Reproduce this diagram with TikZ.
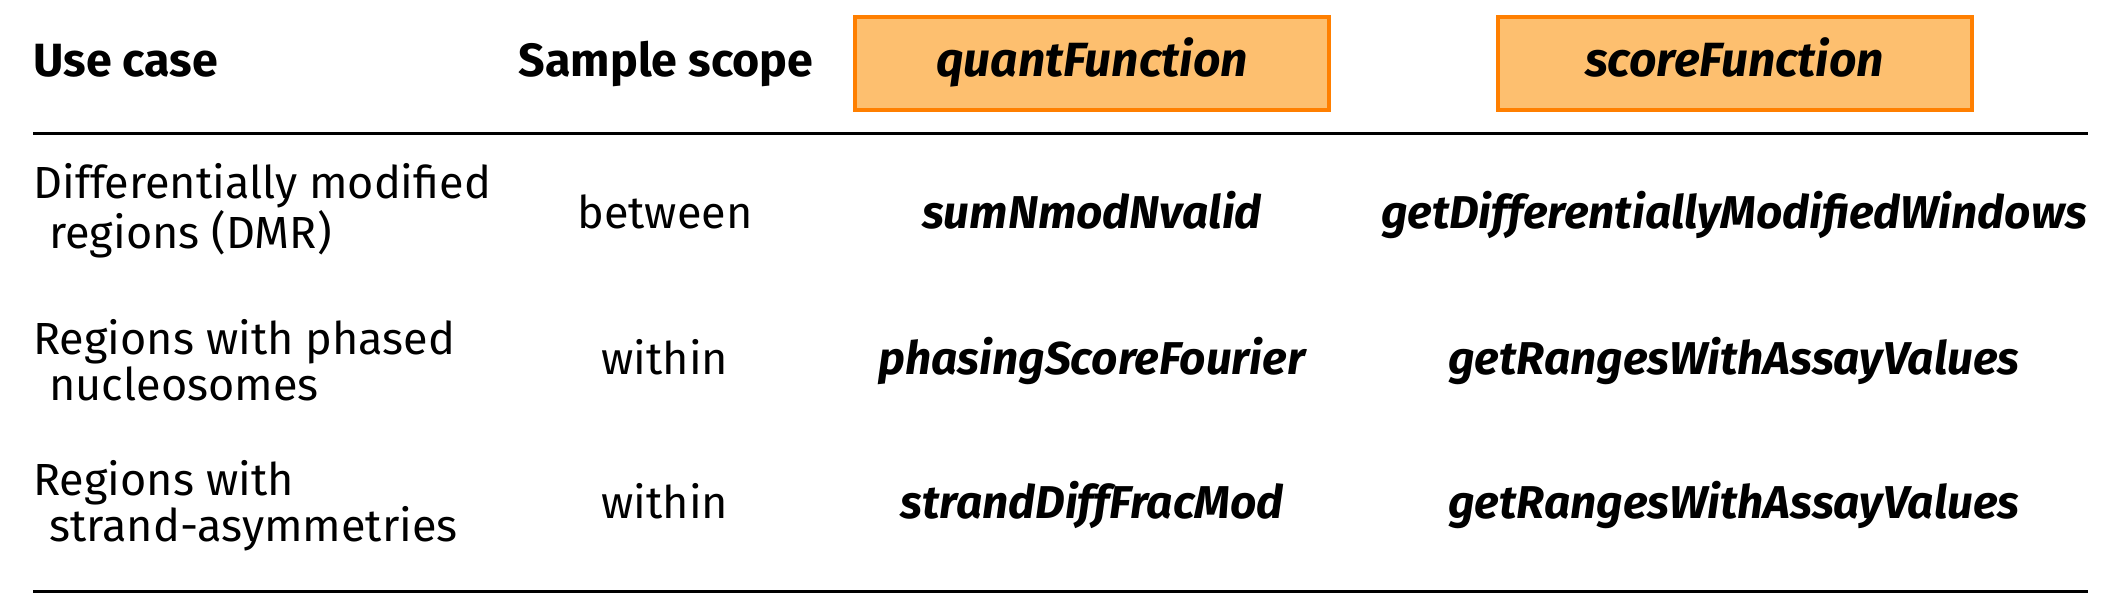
\documentclass[tikz,border=0pt]{standalone}
\usepackage{fontspec}
\setmainfont{Fira Sans}
\definecolor{boxfill}{HTML}{FDBF6F}
\definecolor{boxline}{HTML}{FF7F00}
\begin{document}
\begin{tikzpicture}[x=0.5pt,y=-0.5pt,
  hdr/.style={font=\bfseries\fontsize{23.3}{26}\selectfont, inner sep=0pt, anchor=base},
  cell/.style={font=\fontsize{22.5}{23}\selectfont, inner sep=0pt, anchor=base},
  usecase/.style={font=\fontsize{22.5}{23}\selectfont, inner sep=0pt, anchor=base west, align=left},
  fn/.style={font=\bfseries\itshape\fontsize{23}{26}\selectfont, inner sep=0pt, anchor=base},
  fnbox/.style={draw=boxline, fill=boxfill, line width=2pt, minimum width=237pt, minimum height=46.5pt,
    font=\bfseries\itshape\fontsize{24}{28}\selectfont, text height=18pt, text depth=5pt, inner sep=0pt},
  rule/.style={line width=1.5pt}]
\useasboundingbox (0,0) rectangle (2113,615);
% header
\node[hdr, anchor=base west] (hUse) at (33,76) {Use case};
\node[hdr] (hScope) at (666,76) {Sample scope};
\node[fnbox] (hQuant) at (1092,63.5) {quantFunction};
\node[fnbox] (hScore) at (1734.5,63.5) {scoreFunction};
\coordinate (t1) at (33,133);
\coordinate (t2) at (2088,133);
\draw[rule] (t1) -- (t2);
% row 1
\node[usecase] (u1) at (33,248) {Differentially modified\\\hspace{8pt}regions (DMR)};
\node[cell] (s1) at (665,228) {between};
\node[fn] (q1) at (1092,228) {sumNmodNvalid};
\node[fn] (c1) at (1734,228) {getDifferentiallyModifiedWindows};
% row 2
\node[usecase] (u2) at (33,400) {Regions with phased\\\hspace{8pt}nucleosomes};
\node[cell] (s2) at (665,374) {within};
\node[fn] (q2) at (1092,374) {phasingScoreFourier};
\node[fn] (c2) at (1734,374) {getRangesWithAssayValues};
% row 3
\node[usecase] (u3) at (33,541) {Regions with\\\hspace{8pt}strand-asymmetries};
\node[cell] (s3) at (665,518) {within};
\node[fn] (q3) at (1092,518) {strandDiffFracMod};
\node[fn] (c3) at (1734,518) {getRangesWithAssayValues};
\coordinate (b1) at (33,591);
\coordinate (b2) at (2088,591);
\draw[rule] (b1) -- (b2);
\end{tikzpicture}
\end{document}
